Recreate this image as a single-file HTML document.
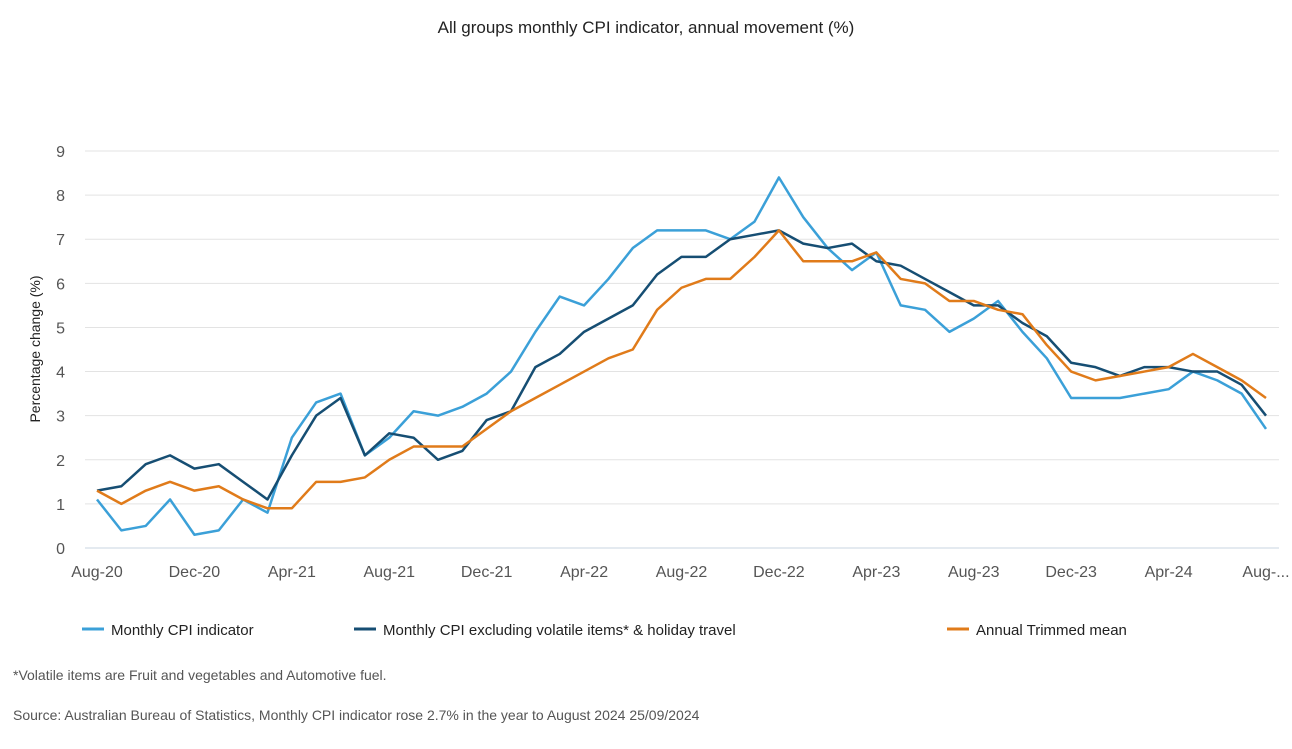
<!DOCTYPE html>
<html><head><meta charset="utf-8"><style>
body{margin:0;background:#fff;font-family:"Liberation Sans",sans-serif;}
svg text{font-family:"Liberation Sans",sans-serif;}
</style></head><body>
<svg id="c" width="1292" height="744">
<text x="646" y="33" text-anchor="middle" font-size="17" fill="#222">All groups monthly CPI indicator, annual movement (%)</text>
<text transform="translate(40,349) rotate(-90)" text-anchor="middle" font-size="14" fill="#222">Percentage change (%)</text>
<g id="grid"></g><g id="lines"></g>
<g>
<line x1="82" y1="629" x2="104" y2="629" stroke="#3ba0d8" stroke-width="3"/>
<text x="111" y="635" font-size="15" fill="#222">Monthly CPI indicator</text>
<line x1="354" y1="629" x2="376" y2="629" stroke="#164e73" stroke-width="3"/>
<text x="383" y="635" font-size="15" fill="#222">Monthly CPI excluding volatile items* &amp; holiday travel</text>
<line x1="947" y1="629" x2="969" y2="629" stroke="#e07b1a" stroke-width="3"/>
<text x="976" y="635" font-size="15" fill="#222">Annual Trimmed mean</text>
</g>
<text x="13" y="680" font-size="14" fill="#555">*Volatile items are Fruit and vegetables and Automotive fuel.</text>
<text x="13" y="720" font-size="14" fill="#555">Source: Australian Bureau of Statistics, Monthly CPI indicator rose 2.7% in the year to August 2024 25/09/2024</text>
</svg>
<script>
const xLabels=["Aug-20","Dec-20","Apr-21","Aug-21","Dec-21","Apr-22","Aug-22","Dec-22","Apr-23","Aug-23","Dec-23","Apr-24","Aug-..."];
const yTicks=[0,1,2,3,4,5,6,7,8,9];
const monthlyCPI=[1.1,0.4,0.5,1.1,0.3,0.4,1.1,0.8,2.5,3.3,3.5,2.1,2.5,3.1,3.0,3.2,3.5,4.0,4.9,5.7,5.5,6.1,6.8,7.2,7.2,7.2,7.0,7.4,8.4,7.5,6.8,6.3,6.7,5.5,5.4,4.9,5.2,5.6,4.9,4.3,3.4,3.4,3.4,3.5,3.6,4.0,3.8,3.5,2.7];
const exclVolatile=[1.3,1.4,1.9,2.1,1.8,1.9,1.5,1.1,2.1,3.0,3.4,2.1,2.6,2.5,2.0,2.2,2.9,3.1,4.1,4.4,4.9,5.2,5.5,6.2,6.6,6.6,7.0,7.1,7.2,6.9,6.8,6.9,6.5,6.4,6.1,5.8,5.5,5.5,5.1,4.8,4.2,4.1,3.9,4.1,4.1,4.0,4.0,3.7,3.0];
const trimmedMean=[1.3,1.0,1.3,1.5,1.3,1.4,1.1,0.9,0.9,1.5,1.5,1.6,2.0,2.3,2.3,2.3,2.7,3.1,3.4,3.7,4.0,4.3,4.5,5.4,5.9,6.1,6.1,6.6,7.2,6.5,6.5,6.5,6.7,6.1,6.0,5.6,5.6,5.4,5.3,4.6,4.0,3.8,3.9,4.0,4.1,4.4,4.1,3.8,3.4];
const ns="http://www.w3.org/2000/svg";
const X=i=>97+i*(1266-97)/48, Y=v=>548-v*(548-151)/9;
const grid=document.getElementById('grid'), lines=document.getElementById('lines');
yTicks.forEach(t=>{
 const l=document.createElementNS(ns,'line');
 l.setAttribute('x1',85);l.setAttribute('x2',1279);l.setAttribute('y1',Y(t));l.setAttribute('y2',Y(t));
 l.setAttribute('stroke',t===0?'#c8d4e0':'#e3e3e3');l.setAttribute('stroke-width',1);
 
 
 grid.appendChild(l);
 const tx=document.createElementNS(ns,'text');
 tx.setAttribute('x',65);tx.setAttribute('y',Y(t)+6);tx.setAttribute('text-anchor','end');
 tx.setAttribute('font-size','16');tx.setAttribute('fill','#555');tx.textContent=t;
 
 
 grid.appendChild(tx);
});
xLabels.forEach((s,k)=>{
 const tx=document.createElementNS(ns,'text');
 tx.setAttribute('x',X(k*4));tx.setAttribute('y',577);tx.setAttribute('text-anchor','middle');
 tx.setAttribute('font-size','16');tx.setAttribute('fill','#555');tx.textContent=s;
 
 
 grid.appendChild(tx);
});
[[monthlyCPI,'#3ba0d8','line-monthly-cpi'],[exclVolatile,'#164e73','line-excl-volatile'],[trimmedMean,'#e07b1a','line-trimmed-mean']].forEach(([d,c,n])=>{
 const p=document.createElementNS(ns,'polyline');
 p.setAttribute('points',d.map((v,i)=>X(i)+','+Y(v)).join(' '));
 p.setAttribute('fill','none');p.setAttribute('stroke',c);p.setAttribute('stroke-width',2.5);
 p.setAttribute('stroke-linejoin','round');
 
 
 lines.appendChild(p);
});
</script>
</body></html>
